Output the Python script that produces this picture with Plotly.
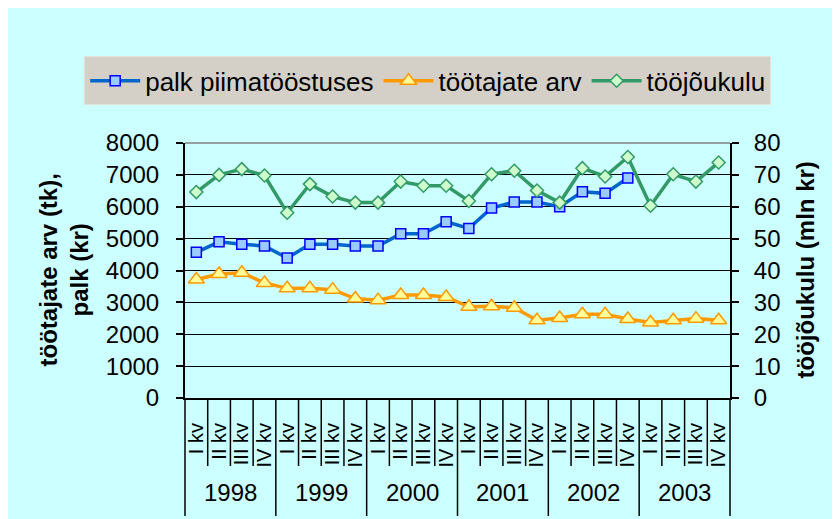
# Quarterly dairy industry chart: wage, number of workers and labour cost

import plotly.graph_objects as go

years = ['1998', '1999', '2000', '2001', '2002', '2003']
quarters = ['I kv', 'II kv', 'III kv', 'IV kv']

# palk piimatööstuses (kr), last value in IV kv 2002
palk = [4570, 4900, 4820, 4770, 4390, 4820, 4820, 4770, 4770, 5150,
        5150, 5530, 5320, 5960, 6150, 6150, 6000, 6470, 6420, 6900]

# töötajate arv (tk)
tootajad = [3720, 3890, 3930, 3610, 3440, 3440, 3400, 3120, 3070, 3230, 3230, 3170,
            2860, 2880, 2830, 2440, 2510, 2630, 2630, 2480, 2370, 2440, 2490, 2440]

# tööjõukulu (mln kr)
toojoukulu = [64.6, 70.0, 71.8, 69.8, 58.1, 67.1, 63.2, 61.3, 61.3, 67.9, 66.6, 66.6,
              61.8, 70.2, 71.3, 65.1, 61.3, 72.1, 69.5, 75.6, 60.3, 70.2, 67.9, 73.9]

labels = [q for y in years for q in quarters]
x = list(range(len(labels)))
n = len(labels)

font_name = 'Liberation Sans, Arial, sans-serif'
bg = '#CCFFFF'

fig = go.Figure()

fig.add_trace(go.Scatter(x = x[:len(palk)],
                         y = palk,
                         name = 'palk piimatööstuses',
                         mode = 'lines+markers',
                         line = dict(width = 3.5, color = '#0066CC'),
                         marker = dict(symbol = 'square', size = 10, color = '#99CCFF',
                                       line = dict(width = 1.5, color = '#0000FF'))))

fig.add_trace(go.Scatter(x = x,
                         y = tootajad,
                         name = 'töötajate arv',
                         mode = 'lines+markers',
                         line = dict(width = 3.5, color = '#FF9900'),
                         marker = dict(symbol = 'triangle-up', size = 14, color = '#FFFF99',
                                       line = dict(width = 1.5, color = '#FF9900'))))

fig.add_trace(go.Scatter(x = x,
                         y = toojoukulu,
                         name = 'tööjõukulu',
                         yaxis = 'y2',
                         mode = 'lines+markers',
                         line = dict(width = 3.5, color = '#339966'),
                         marker = dict(symbol = 'diamond', size = 10, color = '#CCFFCC',
                                       line = dict(width = 1.5, color = '#339966'))))

plot_h = 255

# quarter tick lines and year dividers below the axis
shapes = []
for k in range(n + 1):
    long_line = k % len(quarters) == 0
    shapes.append(dict(type = 'line', xref = 'paper', yref = 'paper',
                       x0 = k / n, x1 = k / n, y0 = 0,
                       y1 = -118 / plot_h if long_line else -68 / plot_h,
                       line = dict(color = 'black', width = 1.5)))
shapes.append(dict(type = 'line', xref = 'paper', yref = 'paper', x0 = 0, x1 = 1, y0 = 1, y1 = 1,
                   line = dict(color = '#808080', width = 1.5)))

annotations = []
for i, yr in enumerate(years):
    annotations.append(dict(x = i * len(quarters) + (len(quarters) - 1) / 2, xref = 'x',
                            y = 0, yref = 'paper', yshift = -94, yanchor = 'middle',
                            text = yr, showarrow = False,
                            font = dict(size = 24, color = 'black')))

annotations.append(dict(x = 0, xref = 'paper', xshift = -122, y = 0.5, yref = 'paper',
                        text = '<b>töötajate arv (tk),<br>palk (kr)</b>', textangle = -90,
                        showarrow = False, xanchor = 'center', yanchor = 'middle',
                        font = dict(size = 24, color = 'black')))
annotations.append(dict(x = 1, xref = 'paper', xshift = 75, y = 0.5, yref = 'paper',
                        text = '<b>tööjõukulu (mln kr)</b>', textangle = -90,
                        showarrow = False, xanchor = 'center', yanchor = 'middle',
                        font = dict(size = 24, color = 'black')))

fig.update_xaxes(range = [-0.5, n - 0.5],
                 tickvals = x,
                 ticktext = labels,
                 tickangle = -90,
                 tickfont = dict(size = 20),
                 ticks = '',
                 ticklabelstandoff = 15,
                 showline = True, linecolor = 'black', linewidth = 2,
                 showgrid = False, zeroline = False)

fig.update_layout(
    yaxis = dict(range = [0, 8000], dtick = 1000,
                 showgrid = True, gridcolor = 'black', gridwidth = 1,
                 showline = True, linecolor = 'black', linewidth = 2,
                 ticks = 'outside', ticklen = 7, tickcolor = 'black', tickwidth = 1.5,
                 ticklabelstandoff = 12,
                 tickfont = dict(size = 24), zeroline = False),
    yaxis2 = dict(range = [0, 80], dtick = 10, overlaying = 'y', side = 'right',
                  showgrid = False,
                  showline = True, linecolor = 'black', linewidth = 2,
                  ticks = 'outside', ticklen = 7, tickcolor = 'black', tickwidth = 1.5,
                  ticklabelstandoff = 10,
                  tickfont = dict(size = 24), zeroline = False),
    legend = dict(orientation = 'h', x = -0.185, xanchor = 'left', y = 1.34, yanchor = 'top',
                  bgcolor = '#D4D0C8', bordercolor = '#E4E0DA', borderwidth = 1,
                  itemwidth = 50,
                  font = dict(size = 26, color = 'black')),
    shapes = shapes,
    annotations = annotations,
    plot_bgcolor = bg,
    paper_bgcolor = bg,
    font = dict(family = font_name, size = 20, color = 'black'),
    width = 840,
    height = 519,
    margin = dict(l = 177, r = 118, t = 135, b = 129, autoexpand = False),
    showlegend = True)

fig.write_html('out.html')
